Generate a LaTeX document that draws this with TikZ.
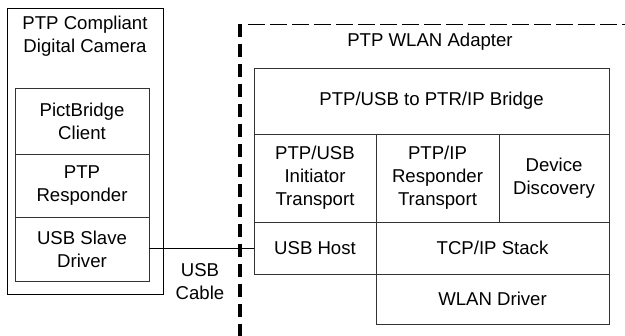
\documentclass[tikz,border=0pt]{standalone}
\usepackage{fontspec}
\setmainfont{Liberation Sans}
\begin{document}
\begin{tikzpicture}[x=1pt,y=-1pt,
  every node/.style={font=\fontsize{18.6}{23}\selectfont, align=center, inner sep=0pt},
  blk/.style={draw=black!80, line width=0.9pt, rectangle}]
\useasboundingbox (0,0) rectangle (625,336);
% camera
\node[draw=black, line width=0.9pt, minimum width=156pt, minimum height=286pt] (cam) at (85,151) {};
\node (camlbl) at (85,36) {PTP Compliant\\Digital Camera};
\node[blk, minimum width=134pt, minimum height=66pt] (pict) at (82,121) {PictBridge\\Client};
\node[blk, minimum width=134pt, minimum height=63pt] (resp) at (82,185.5) {PTP\\Responder};
\node[blk, minimum width=134pt, minimum height=64pt] (slave) at (82,249) {USB Slave\\Driver};
% adapter frame
\coordinate (dtop) at (240,24);
\coordinate (dbot) at (240,336);
\draw[line width=4pt, dash pattern=on 13pt off 7pt] (dtop) -- (dbot);
\coordinate (htl) at (248,25);
\coordinate (htr) at (625,25);
\draw[line width=1pt, dash pattern=on 17pt off 5pt] (htl) -- (htr);
\node (adlbl) at (430,42) {PTP WLAN Adapter};
\node[blk, minimum width=355pt, minimum height=66pt] (bridge) at (431.5,101) {PTP/USB to PTR/IP Bridge};
\node[blk, minimum width=122pt, minimum height=88pt] (init) at (315,178) {PTP/USB\\Initiator\\Transport};
\node[blk, minimum width=123pt, minimum height=88pt] (iprsp) at (437.5,178) {PTP/IP\\Responder\\Transport};
\node[blk, minimum width=110pt, minimum height=88pt] (disc) at (554,178) {Device\\Discovery};
\node[blk, minimum width=122pt, minimum height=52pt] (usbhost) at (315,248) {USB Host};
\node[blk, minimum width=233pt, minimum height=52pt] (tcp) at (492.5,248) {TCP/IP Stack};
\node[blk, minimum width=233pt, minimum height=50pt] (wlan) at (492.5,299) {WLAN Driver};
% cable
\draw[line width=0.9pt] (slave.east |- usbhost.west) -- (usbhost.west);
\node (cable) at (200,282) {USB\\Cable};
\end{tikzpicture}
\end{document}
